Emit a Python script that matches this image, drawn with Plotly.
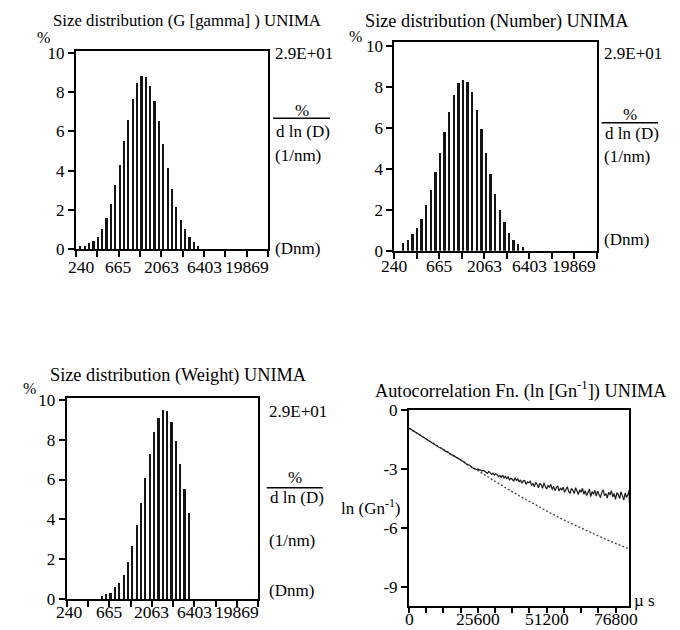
import plotly.graph_objects as go

# ---------------- data ----------------
# size-distribution channels (instrument channel index) and heights (%)
gamma_channels = list(range(1, 29))
gamma_pct = [0.14, 0.17, 0.29, 0.39, 0.63, 1.02, 1.56, 2.29, 3.25, 4.27, 5.50, 6.60, 7.63, 8.47,
             8.85, 8.76, 8.34, 7.56, 6.53, 5.34, 4.15, 3.05, 2.15, 1.49, 1.02, 0.60, 0.38, 0.17]

number_channels = list(range(2, 29))
number_pct = [0.39, 0.55, 0.85, 1.12, 1.56, 2.23, 2.96, 3.85, 4.78, 5.80, 6.78, 7.60, 8.18, 8.34,
              8.24, 7.74, 6.89, 5.94, 4.77, 3.77, 2.80, 2.02, 1.43, 0.87, 0.52, 0.36, 0.20]

weight_channels = list(range(8, 29))
weight_pct = [0.15, 0.22, 0.29, 0.58, 0.79, 1.19, 1.85, 2.64, 3.69, 4.83, 6.08, 7.29, 8.36, 9.08,
              9.49, 9.43, 8.87, 7.93, 6.79, 5.53, 4.32]

size_tick_labels = ["240", "", "665", "", "2063", "", "6403", "", "19869", ""]

# autocorrelation: lag time (microseconds) and ln(Gn-1)
fit_tau = list(range(0, 81921, 4096))
fit_ln = [-0.92, -1.27, -1.62, -1.97, -2.32, -2.67, -3.02, -3.36, -3.70, -4.03, -4.36,
          -4.68, -5.00, -5.29, -5.58, -5.85, -6.12, -6.37, -6.62, -6.85, -7.08]

meas_tau = list(range(0, 24576, 1024)) + list(range(24576, 81921, 512)) + [81920, 81920]
meas_ln = [
    -0.90, -0.99, -1.08, -1.19, -1.26, -1.37, -1.44, -1.55, -1.61, -1.72,
    -1.78, -1.90, -1.95, -2.07, -2.12, -2.24, -2.30, -2.38, -2.50, -2.55,
    -2.64, -2.76, -2.80, -2.93,
    -2.98, -3.02, -2.99, -3.06, -3.04, -3.10, -3.07, -3.14,
    -3.16, -3.22, -3.12, -3.19, -3.27, -3.21, -3.30, -3.24,
    -3.28, -3.38, -3.33, -3.42, -3.30, -3.45, -3.37, -3.48,
    -3.40, -3.55, -3.47, -3.52, -3.62, -3.44, -3.58, -3.50,
    -3.66, -3.55, -3.72, -3.60, -3.58, -3.78, -3.65, -3.70,
    -3.62, -3.82, -3.74, -3.90, -3.68, -3.77, -3.95, -3.72,
    -3.80, -3.98, -3.70, -3.88, -4.02, -3.84, -3.92, -3.78,
    -4.05, -3.88, -4.10, -3.95, -3.85, -4.12, -3.98, -4.06,
    -3.92, -4.18, -4.00, -3.90, -4.15, -4.22, -3.98, -4.08,
    -4.25, -3.95, -4.12, -4.30, -4.05, -4.18, -3.98, -4.28,
    -4.10, -4.35, -4.20, -4.02, -4.40, -4.15, -4.28, -4.08,
    -4.38, -4.12, -4.30, -4.45, -4.20, -4.05, -4.35, -4.25,
    -4.48, -4.18, -4.32, -4.10, -4.42, -4.25, -4.55, -4.20,
    -4.30, -4.50, -4.15, -4.40, -4.58, -4.22, -4.45, -4.30,
    -4.05, -4.70, -4.35,
]

acf_tickvals = list(range(0, 76801, 6400))
acf_ticktext = ["0", "", "", "", "25600", "", "", "", "51200", "", "", "", "76800"]
acf_yticks = [0, -3, -6, -9]
acf_yticktext = ["0", "-3", "-6", "-9"]

# ---------------- figure ----------------
W, H = 680, 630
SERIF = "Liberation Serif, Times New Roman, serif"


def px(x):
    return x / W


def py(y):
    return 1 - y / H


fig = go.Figure()
bar_style = dict(width=0.5, marker=dict(color="#141414", line=dict(width=0)), showlegend=False,
                 hoverinfo="x+y")
fig.add_trace(go.Bar(x=gamma_channels, y=gamma_pct, xaxis="x", yaxis="y", **bar_style))
fig.add_trace(go.Bar(x=number_channels, y=number_pct, xaxis="x2", yaxis="y2", **bar_style))
fig.add_trace(go.Bar(x=weight_channels, y=weight_pct, xaxis="x3", yaxis="y3", **bar_style))
fig.add_trace(go.Scatter(x=fit_tau, y=fit_ln, xaxis="x4", yaxis="y4", mode="lines",
                         line=dict(color="#444444", width=1.3, dash="2px,2px"), showlegend=False))
fig.add_trace(go.Scatter(x=meas_tau, y=meas_ln, xaxis="x4", yaxis="y4", mode="lines",
                         line=dict(color="#1a1a1a", width=1.2), showlegend=False))

axis_common = dict(showline=True, mirror=True, linecolor="black", linewidth=2,
                   ticks="outside", ticklen=6, tickwidth=1.5, tickcolor="black",
                   showgrid=False, zeroline=False, automargin=False,
                   tickfont=dict(family=SERIF, size=17, color="black"))

size_tickvals = [k * 44 / 9 for k in range(10)]


def size_xaxis(x0, x1, anchor):
    return dict(axis_common, domain=[px(x0), px(x1)], range=[0, 44], anchor=anchor,
                tickmode="array", tickvals=size_tickvals, showticklabels=False)


def size_yaxis(top, bottom, ymax, anchor):
    return dict(axis_common, domain=[py(bottom), py(top)], range=[0, ymax], anchor=anchor,
                tickmode="array", tickvals=[0, 2, 4, 6, 8, 10])


fig.update_layout(
    width=W, height=H, margin=dict(l=0, r=0, t=0, b=0, autoexpand=False),
    paper_bgcolor="white", plot_bgcolor="white",
    font=dict(family=SERIF, size=17, color="black"),
    bargap=0,
    xaxis=size_xaxis(76, 268, "y"),
    yaxis=size_yaxis(51, 249, 10.1, "x"),
    xaxis2=size_xaxis(394.3, 596.7, "y2"),
    yaxis2=size_yaxis(41.7, 250.7, 10.2, "x2"),
    xaxis3=size_xaxis(66.7, 258.3, "y3"),
    yaxis3=size_yaxis(398.3, 599, 10.08, "x3"),
    xaxis4=dict(axis_common, domain=[px(409), px(629.3)], range=[0, 81920], anchor="y4",
                tickmode="array", tickvals=acf_tickvals, ticklen=5, showticklabels=False),
    yaxis4=dict(axis_common, domain=[py(606.3), py(410.3)], range=[-10, 0], anchor="x4",
                tickmode="array", tickvals=acf_yticks, ticktext=acf_yticktext),
)

ann = []


def text(x, y, s, anchor="left", size=17):
    ann.append(dict(x=px(x), y=py(y), xref="paper", yref="paper", text=s, showarrow=False,
                    xanchor=anchor, yanchor="middle",
                    font=dict(family=SERIF, size=size, color="black")))


def xtick_labels(xref, vals, labels, y, first_shift=0):
    for i, (v, lab) in enumerate(zip(vals, labels)):
        if not lab:
            continue
        ann.append(dict(x=v, y=py(y), xref=xref, yref="paper", text=lab, showarrow=False,
                        xanchor="center", yanchor="middle",
                        xshift=first_shift if i == 0 else 0,
                        font=dict(family=SERIF, size=17.5, color="black")))


xtick_labels("x", size_tickvals, size_tick_labels, 266.5, first_shift=5)
xtick_labels("x2", size_tickvals, size_tick_labels, 265.5)
xtick_labels("x3", size_tickvals, size_tick_labels, 611.5, first_shift=3)
xtick_labels("x4", acf_tickvals, acf_ticktext, 619)

# titles
text(187, 20, "Size distribution (G [gamma] ) UNIMA", "center", 16.8)
text(497.5, 21.5, "Size distribution (Number) UNIMA", "center", 18.3)
text(178, 375, "Size distribution (Weight) UNIMA", "center", 18.3)
text(521, 390, "Autocorrelation Fn. (ln [Gn<sup>-1</sup>]) UNIMA", "center", 18.3)

# % labels
text(43, 37, "%", "center", 16)
text(355, 36, "%", "center", 16)
text(29, 388, "%", "center", 16)

shapes = []


def right_labels(xl, y_scale, y_pct, y_line, x_line1, y_dln, y_nm, y_dnm):
    text(xl, y_scale, "2.9E+01")
    text((xl + x_line1) / 2, y_pct, "%", "center")
    shapes.append(dict(type="line", xref="paper", yref="paper", x0=px(xl), x1=px(x_line1),
                       y0=py(y_line), y1=py(y_line), line=dict(color="black", width=1.5)))
    text(xl + 1, y_dln, "d ln (D)")
    text(xl, y_nm, "(1/nm)")
    text(xl, y_dnm, "(Dnm)")


right_labels(273, 53, 110.5, 118.3, 330, 131.7, 155, 249)
right_labels(601.7, 53.3, 114, 122.7, 658, 133.3, 156.7, 239.3)
right_labels(266.7, 411.7, 477, 487.7, 322.7, 497.5, 540, 590)

# autocorrelation axis labels
text(403.3, 506.7, "ln (Gn<sup>-1</sup>)", "right")
text(631.7, 600, "\u00b5 s", "left")

fig.update_layout(annotations=ann, shapes=shapes)

fig.write_html("out.html")
